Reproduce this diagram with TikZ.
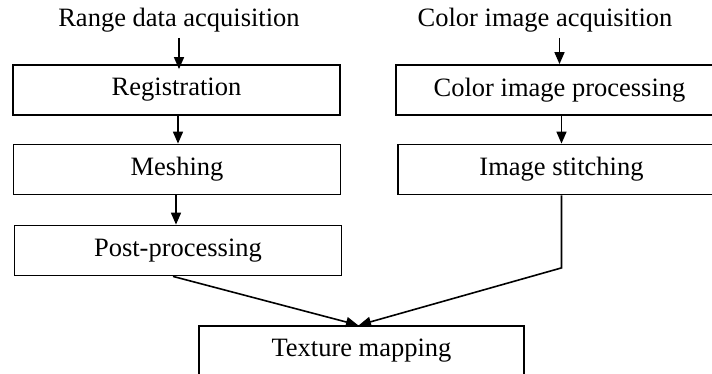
\documentclass[tikz,border=0pt]{standalone}
\usepackage{fontspec}
\setmainfont{Liberation Serif}
\usetikzlibrary{arrows.meta, positioning}

\begin{document}
\begin{tikzpicture}[x=1pt, y=1pt,
    box/.style={draw, line width=1.8pt, minimum width=327pt, minimum height=50pt, inner sep=0pt, font=\fontsize{26.5}{30}\selectfont},
    lbl/.style={inner sep=0pt, font=\fontsize{26.5}{30}\selectfont},
    flow/.style={-{Triangle[length=12pt, width=10pt]}, line width=1.6pt}]
    \clip (0,0) rectangle (712,373);

    \node (rng) [lbl, anchor=base] at (179,346) {Range data acquisition};
    \node (reg) [box] at (176.5,283) {Registration};
    \node (mesh) [box] at (177,203.5) {Meshing};
    \node (post) [box] at (178,122.5) {Post-processing};

    \node (col) [lbl, anchor=base] at (545,346) {Color image acquisition};
    \node (proc) [box] at (559.5,283) {Color image processing};
    \node (stitch) [box] at (561.5,203.5) {Image stitching};

    \node (tex) [box, minimum width=325pt] at (361.5,22) {Texture mapping};
    \coordinate (kink) at ([yshift=-72.5pt]stitch.south);

    \draw [flow] ([yshift=-5pt]rng.south) -- ([yshift=-5pt]rng.south |- reg.north);
    \draw [flow] ([xshift=1.5pt]reg.south) -- ([xshift=1.5pt]reg.south |- mesh.north);
    \draw [flow] ([xshift=-1pt]mesh.south) -- ([xshift=-1pt]mesh.south |- post.north);
    \draw [flow] ([xshift=-5pt]post.south) -- ([xshift=-3.5pt]tex.north);

    \draw [flow] ([yshift=-5pt]col.south -| proc.north) -- (proc.north);
    \draw [flow] (stitch.north |- proc.south) -- (stitch.north);
    \draw [flow] (stitch.south) -- (kink) -- ([xshift=-2.5pt]tex.north);
\end{tikzpicture}
\end{document}
